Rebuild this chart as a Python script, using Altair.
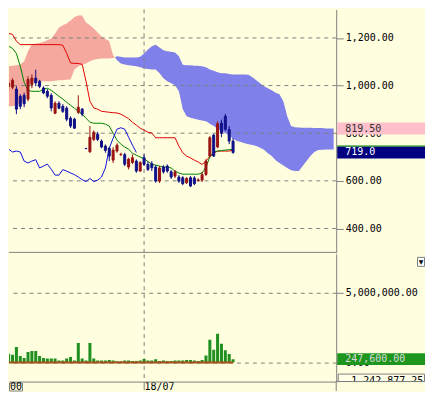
import altair as alt
import pandas as pd

# ---------------- data ----------------
idx = list(range(59))
opens = [997, 993, 985, 955, 959, 943, 1005, 1031, 1018, 990, 976, 959, 884, 926, 913, 905, 863, 859, 888, 901,
         736, 722, 774, 796, 767, 746, 737, 687, 725, 710, 710, 658, 677, 683, 641, 697, 669, 672, 658, 599,
         658, 662, 638, 620, 616, 613, 592, 613, 612, 602, 603, 627, 704, 792, 742, 842, 871, 815, 767]
highs = [1026, 1031, 997, 964, 970, 1039, 1047, 1067, 1024, 997, 985, 968, 934, 934, 922, 913, 871, 865, 959, 906,
         736, 830, 812, 806, 774, 753, 742, 742, 758, 718, 718, 697, 711, 690, 683, 711, 680, 683, 666, 662,
         666, 669, 645, 645, 624, 620, 616, 620, 620, 610, 637, 691, 788, 796, 850, 857, 881, 830, 779]
lows = [985, 985, 880, 901, 909, 934, 989, 997, 989, 964, 947, 892, 880, 901, 885, 850, 822, 819, 880, 871,
        735, 718, 767, 767, 737, 718, 683, 675, 718, 704, 662, 648, 670, 634, 638, 662, 641, 641, 592, 591,
        630, 634, 608, 612, 591, 582, 587, 574, 582, 597, 595, 620, 700, 700, 737, 783, 809, 754, 714]
closes = [1010, 1022, 901, 913, 923, 1026, 1031, 1011, 997, 969, 955, 906, 926, 905, 892, 859, 830, 821, 909, 880,
          735, 783, 804, 774, 742, 728, 704, 729, 750, 712, 670, 691, 697, 641, 677, 669, 648, 655, 599, 654,
          638, 641, 616, 638, 599, 588, 610, 578, 588, 604, 626, 683, 781, 704, 840, 800, 817, 767, 719]
volumes = [640000, 569000, 1117000, 477000, 334000, 761000, 832000, 832000, 477000, 334000,
           285000, 285000, 285000, 142000, 142000, 285000, 405000, 142000, 1401000, 285000,
           142000, 1401000, 285000, 142000, 142000, 142000, 192000, 142000, 92000, 92000,
           142000, 142000, 107000, 107000, 142000, 249000, 142000, 142000, 235000, 107000,
           142000, 107000, 107000, 142000, 142000, 142000, 178000, 192000, 142000, 107000,
           178000, 498000, 1636000, 925000, 2063000, 1351000, 875000, 605000, 247600]
kijun = [1219, 1215, 1186, 1172, 1172, 1172, 1172, 1172, 1172, 1172, 1172, 1172, 1172, 1172, 1169, 1135, 1095, 1093,
         1093, 1089, 1018, 934, 906, 901, 892, 890, 888, 886, 885, 880, 871, 861, 846, 834, 821, 813, 804, 801,
         781, 781, 781, 781, 781, 781, 746, 718, 704, 696, 687, 679, 669, 683, 704, 716, 725, 725, 725, 725, 729]
tenkan = [1165, 1156, 1135, 1081, 1014, 980, 976, 976, 976, 985, 989, 980, 968, 955, 943, 930, 917, 905, 892, 880,
          863, 846, 842, 842, 842, 838, 830, 800, 771, 754, 742, 733, 716, 708, 700, 693, 681, 670, 666, 662,
          658, 658, 654, 641, 633, 628, 628, 628, 628, 628, 633, 658, 700, 721, 725, 727, 729, 731, 732]
chikou = [733, 721, 725, 721, 683, 675, 683, 689, 654, 662, 670, 649, 624, 624, 647, 641, 633, 626, 616, 605,
          597, 610, 597, 603, 616, 654, 737, 779, 817, 823, 817, 783, 750, 719]

pink_idx = list(range(28)) + [27.5]
pink_top = [1081, 1083, 1085, 1089, 1102, 1144, 1173, 1177, 1179, 1183, 1190, 1198, 1219, 1244, 1253, 1261, 1273,
            1288, 1294, 1294, 1265, 1253, 1240, 1223, 1206, 1196, 1186, 1127, 1119]
pink_bot = [913, 913, 917, 926, 934, 997, 1018, 1018, 1018, 1018, 1018, 1018, 1020, 1022, 1022, 1024, 1026,
            1068, 1081, 1087, 1093, 1102, 1108, 1112, 1114, 1114, 1114, 1116, 1119]
blue_idx = [27.5] + list(range(28, 85))
blue_top = [1119, 1123, 1121, 1118, 1118, 1118, 1118, 1121, 1135, 1152, 1165, 1171, 1160, 1148, 1144, 1142, 1139,
            1123, 1087, 1085, 1085, 1083, 1083, 1081, 1077, 1068, 1062, 1056, 1052, 1052, 1049, 1047, 1047, 1047,
            1047, 1045, 1035, 1022, 1010, 997, 989, 980, 970, 964, 934, 871, 830, 825, 824, 823, 823, 823, 822,
            822, 822, 819.5, 819.5, 819.5]
blue_bot = [1119, 1106, 1093, 1089, 1085, 1083, 1081, 1077, 1072, 1070, 1068, 1067, 1052, 1031, 1018, 1010, 1001,
            976, 901, 871, 865, 861, 857, 853, 850, 840, 830, 819, 809, 801, 790, 777, 767, 763, 758, 754, 750,
            746, 739, 731, 716, 704, 687, 675, 664, 654, 645, 641, 641, 662, 683, 704, 721, 729, 731, 732, 732, 732]

price_ticks = [400, 600, 800, 1000, 1200]
volume_ticks = [0, 5000000]
date_ticks = [35]
date_labels = ["18/07"]
price_marks = [819.5, 719.0]
price_mark_text = ["819.50", "719.0"]
volume_mark = [247600]
volume_mark_text = ["247,600.00"]
volume_min_text = "-1,242,877.25"
prev_date_text = "00"

# ---------------- styles ----------------
BG = "#ffffe0"
GRID = "#808080"
UP = "#9a1414"
DOWN = "#10108a"
FONT = "DejaVu Sans Mono"
W = 328
H_TOP = 244
H_BOT = 128
RIGHT = 417

candles = pd.DataFrame({"i": idx, "open": opens, "high": highs, "low": lows, "close": closes,
                        "vol": volumes, "kijun": kijun, "tenkan": tenkan})
candles["dir"] = ["up" if c >= o else "down" for o, c in zip(opens, closes)]
chik = pd.DataFrame({"i": list(range(len(chikou))), "v": chikou})
pink = pd.DataFrame({"i": pink_idx, "top": pink_top, "bot": pink_bot})
blue = pd.DataFrame({"i": blue_idx, "top": blue_top, "bot": blue_bot})
pticks = pd.DataFrame({"v": price_ticks})
pmarks = pd.DataFrame({"v": price_marks, "t": price_mark_text,
                       "bg": ["#ffc0cb", "#000080"], "fg": ["#303030", "#ffffff"]})
vmarks = pd.DataFrame({"v": volume_mark, "t": volume_mark_text})
one = pd.DataFrame({"t": [volume_min_text], "p": [prev_date_text], "arrow": ["\u25bc"]})

xscale = alt.Scale(domain=[1.375, 83.375], nice=False, zero=False)
pscale = alt.Scale(domain=[297.6, 1319.6], nice=False, zero=False)
vscale = alt.Scale(domain=[-1351400, 7752500], nice=False, zero=False)

paxis = alt.Axis(orient="right", values=price_ticks, format=",.2f", grid=False, title=None,
                 labelFont=FONT, labelFontSize=10, labelColor="#000000", tickSize=7, tickColor=GRID,
                 domainColor=GRID, labelPadding=2, zindex=0)
vaxis = alt.Axis(orient="right", values=volume_ticks, format=",.2f", grid=True, gridDash=[4, 4],
                 gridColor=GRID, title=None, labelFont=FONT, labelFontSize=10, labelColor="#000000",
                 tickSize=7, tickColor=GRID, domainColor=GRID, labelPadding=2, zindex=0)
label_expr = " : ".join([f"datum.value == {t} ? '{l}'" for t, l in zip(date_ticks, date_labels)]) + " : ''"
xaxis = alt.Axis(orient="bottom", values=date_ticks, labelExpr=label_expr, grid=True, gridDash=[4, 4],
                 gridColor=GRID, title=None, labelFont=FONT, labelFontSize=10, labelColor="#000000",
                 tickSize=8, tickColor=GRID, domainColor=GRID, labelAlign="left", labelBaseline="alphabetic",
                 labelPadding=0, labelFlush=False, zindex=0)


def X(field="i"):
    return alt.X(f"{field}:Q", scale=xscale, axis=None)


def PY(field):
    return alt.Y(f"{field}:Q", scale=pscale, axis=paxis)


dir_color = alt.Color("dir:N", scale=alt.Scale(domain=["up", "down"], range=[UP, DOWN]), legend=None)

# ---------------- price panel ----------------
cloud_p = alt.Chart(pink).mark_area(color="#f5a89e", clip=True).encode(x=X(), y=PY("top"), y2="bot:Q")
cloud_b = alt.Chart(blue).mark_area(color="#8080ea", clip=True).encode(x=X(), y=PY("top"), y2="bot:Q")
hgrid = alt.Chart(pticks).mark_rule(color=GRID, strokeDash=[4, 4]).encode(y=PY("v"))
vgrid = alt.Chart(pd.DataFrame({"i": date_ticks})).mark_rule(color=GRID, strokeDash=[4, 4]).encode(x=X())
kij = alt.Chart(candles).mark_line(color="#e00000", strokeWidth=1, clip=True).encode(x=X(), y=PY("kijun"))
ten = alt.Chart(candles).mark_line(color="#008000", strokeWidth=1, clip=True).encode(x=X(), y=PY("tenkan"))
chi = alt.Chart(chik).mark_line(color="#1010e0", strokeWidth=1, clip=True).encode(x=X(), y=PY("v"))
wick = alt.Chart(candles).mark_rule(strokeWidth=1, clip=True).encode(x=X(), y=PY("low"), y2="high:Q",
                                                                     color=dir_color)
body = alt.Chart(candles).mark_bar(width=2, strokeWidth=1, clip=True).encode(
    x=X(), y=PY("open"), y2="close:Q", color=dir_color, stroke=dir_color)
mark_box = alt.Chart(pmarks).mark_rect(yOffset=-6, y2Offset=6).encode(
    x=alt.value(W + 1), x2=alt.value(RIGHT), y=PY("v"), y2="v:Q", color=alt.Color("bg:N", scale=None))
mark_line = alt.Chart(pmarks.iloc[[1]]).mark_rect(color="#008000", yOffset=-7, y2Offset=-6).encode(
    x=alt.value(W + 1), x2=alt.value(RIGHT), y=PY("v"), y2="v:Q")
mark_txt = alt.Chart(pmarks).mark_text(align="left", baseline="middle", font=FONT, fontSize=10).encode(
    x=alt.value(W + 9), y=PY("v"), text="t:N", color=alt.Color("fg:N", scale=None))
sep = alt.Chart(one).mark_rule(color=GRID).encode(x=alt.value(0), x2=alt.value(W), y=alt.value(H_TOP - 0.5))

top = alt.layer(cloud_p, cloud_b, hgrid, vgrid, kij, ten, chi, wick, body, mark_box, mark_line, mark_txt,
                sep).properties(width=W, height=H_TOP)


# ---------------- volume panel ----------------
def VY(field):
    return alt.Y(f"{field}:Q", scale=vscale, axis=vaxis)


vbars = alt.Chart(candles).mark_bar(width=3, color="#1f8f1f", clip=True).encode(
    x=alt.X("i:Q", scale=xscale, axis=xaxis), y=VY("vol"), y2=alt.datum(0))
vbase = alt.Chart(pd.DataFrame({"a": [idx[0]], "b": [idx[-1]]})).mark_rule(
    color="#a8501a", strokeWidth=2, clip=True).encode(
    x=alt.X("a:Q", scale=xscale, axis=xaxis), x2="b:Q", y=alt.datum(0))
vbox = alt.Chart(vmarks).mark_rect(yOffset=-6, y2Offset=6, color="#1e961e").encode(
    x=alt.value(W + 1), x2=alt.value(RIGHT), y=VY("v"), y2="v:Q")
vtxt = alt.Chart(vmarks).mark_text(align="left", baseline="middle", font=FONT, fontSize=10,
                                   color="#d8d8d8").encode(x=alt.value(W + 9), y=VY("v"), text="t:N")
minbox = alt.Chart(one).mark_rect(fill="#ffffe8", stroke=GRID, strokeWidth=1).encode(
    x=alt.value(W + 2), x2=alt.value(RIGHT - 0.5), y=alt.value(120.5), y2=alt.value(128))
mintxt = alt.Chart(one).mark_text(align="left", baseline="alphabetic", font=FONT, fontSize=10,
                                  color="#000000").encode(x=alt.value(W + 9), y=alt.value(130.5), text="t:N")
cover = alt.Chart(one).mark_rect(color=BG).encode(
    x=alt.value(W + 1), x2=alt.value(RIGHT), y=alt.value(128.5), y2=alt.value(135))
bline = alt.Chart(one).mark_rule(color=GRID).encode(x=alt.value(W), x2=alt.value(RIGHT - 0.5), y=alt.value(128))
vext = alt.Chart(one).mark_rule(color=GRID).encode(x=alt.value(W), y=alt.value(128), y2=alt.value(137.5))
arrow_box = alt.Chart(one).mark_rect(fill="#ffffff", stroke=GRID, strokeWidth=1).encode(
    x=alt.value(RIGHT - 7.5), x2=alt.value(RIGHT - 0.5), y=alt.value(3.5), y2=alt.value(12.5))
arrow_txt = alt.Chart(one).mark_text(font="DejaVu Sans", fontSize=6, color="#000000", baseline="middle").encode(
    x=alt.value(RIGHT - 4), y=alt.value(8), text="arrow:N")
prev_box = alt.Chart(one).mark_rect(fill=BG, stroke=GRID, strokeWidth=1).encode(
    x=alt.value(0.5), x2=alt.value(13.5), y=alt.value(129.5), y2=alt.value(137.5))
prev_txt = alt.Chart(one).mark_text(align="left", baseline="alphabetic", font=FONT, fontSize=10,
                                    color="#000000").encode(x=alt.value(1), y=alt.value(136), text="p:N")

bottom = alt.layer(vbars, vbase, vbox, vtxt, minbox, mintxt, cover, bline, vext, arrow_box, arrow_txt,
                   prev_box, prev_txt).properties(width=W, height=H_BOT)

chart = alt.vconcat(top, bottom, spacing=0, background=BG, padding=0).configure_view(stroke=None)

chart.save("out.html", embed_options={"renderer": "svg", "actions": False})
